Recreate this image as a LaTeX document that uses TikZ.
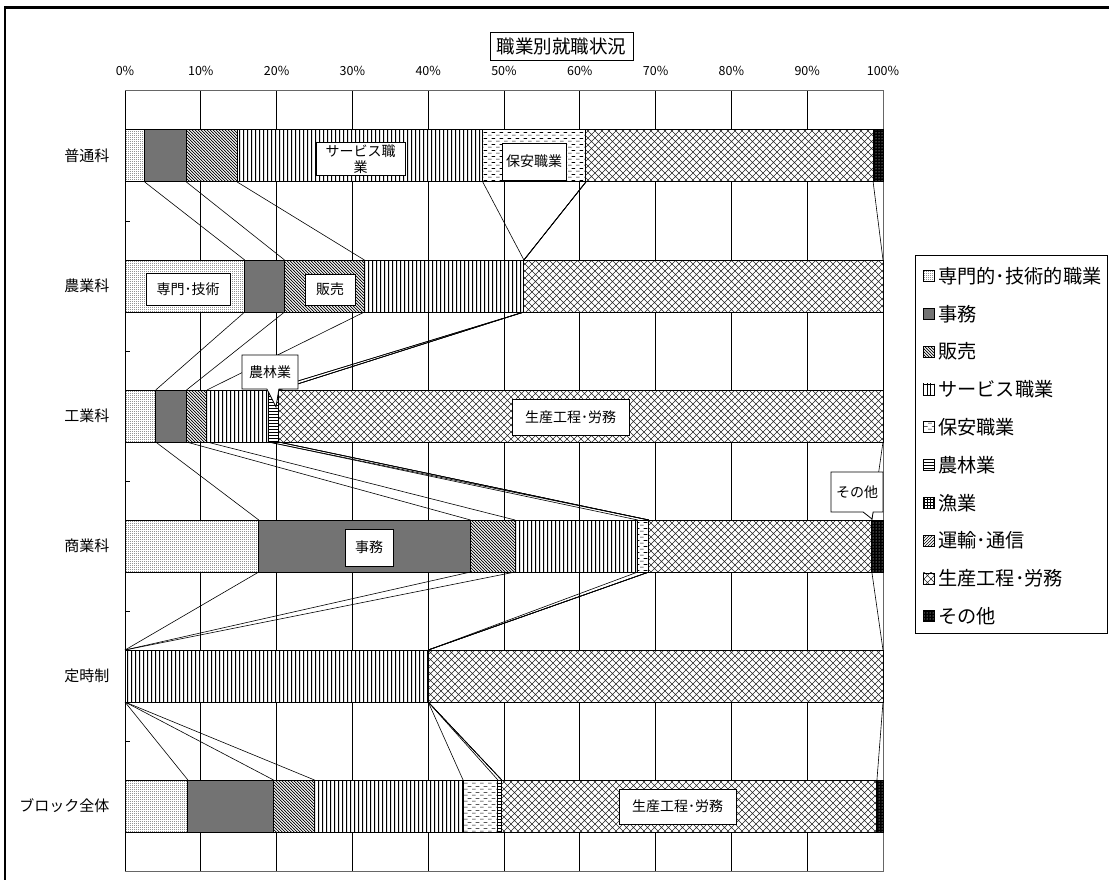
\documentclass[tikz,border=0pt]{standalone}
\usepackage{fontspec}
\setmainfont{Noto Sans CJK JP}
\usetikzlibrary{patterns}
\usetikzlibrary{shapes.callouts}

% fill patterns for the bar segments
\pgfdeclarepatternformonly{finedots}{\pgfpointorigin}{\pgfqpoint{2pt}{2pt}}{\pgfqpoint{2pt}{2pt}}{%
\pgfpathrectangle{\pgfpointorigin}{\pgfqpoint{0.9pt}{0.9pt}}\pgfusepath{fill}}
\pgfdeclarepatternformonly{hatchnw}{\pgfqpoint{-1pt}{-1pt}}{\pgfqpoint{4pt}{4pt}}{\pgfqpoint{3pt}{3pt}}{%
\pgfsetlinewidth{0.7pt}%
\pgfpathmoveto{\pgfqpoint{0pt}{3pt}}\pgfpathlineto{\pgfqpoint{3.1pt}{-0.1pt}}%
\pgfusepath{stroke}}
\pgfdeclarepatternformonly{vlines}{\pgfpointorigin}{\pgfqpoint{3.6pt}{100pt}}{\pgfqpoint{3.6pt}{100pt}}{%
\pgfsetlinewidth{1pt}%
\pgfpathmoveto{\pgfqpoint{1.8pt}{0pt}}\pgfpathlineto{\pgfqpoint{1.8pt}{100pt}}%
\pgfusepath{stroke}}
\pgfdeclarepatternformonly{dashrows}{\pgfpointorigin}{\pgfqpoint{8pt}{6pt}}{\pgfqpoint{8pt}{6pt}}{%
\pgfsetlinewidth{0.6pt}%
\pgfpathmoveto{\pgfqpoint{0pt}{1pt}}\pgfpathlineto{\pgfqpoint{4pt}{1pt}}%
\pgfpathmoveto{\pgfqpoint{4pt}{4pt}}\pgfpathlineto{\pgfqpoint{8pt}{4pt}}%
\pgfusepath{stroke}}
\pgfdeclarepatternformonly{bigcross}{\pgfqpoint{-0.5pt}{-0.5pt}}{\pgfqpoint{7.5pt}{7.5pt}}{\pgfqpoint{7pt}{7pt}}{%
\pgfsetlinewidth{0.6pt}%
\pgfpathmoveto{\pgfqpoint{0pt}{0pt}}\pgfpathlineto{\pgfqpoint{7pt}{7pt}}%
\pgfpathmoveto{\pgfqpoint{0pt}{7pt}}\pgfpathlineto{\pgfqpoint{7pt}{0pt}}%
\pgfusepath{stroke}}

\tikzset{
bar/.style={ % Sets the properties for each bar segment
draw, line width=1pt,
preaction={fill=white}},
seg1/.style={bar, pattern=finedots},
seg2/.style={bar, fill=black!55},
seg3/.style={bar, pattern=hatchnw},
seg4/.style={bar, pattern=vlines},
seg5/.style={bar, pattern=dashrows},
seg6/.style={bar, pattern=horizontal lines},
seg7/.style={bar, pattern=grid},
seg8/.style={bar, pattern=north east lines},
seg9/.style={bar, pattern=bigcross, pattern color=black!85},
seg10/.style={bar, preaction={fill=black}, pattern=dots, pattern color=white},
gridline/.style={line width=0.9pt},
serline/.style={line width=0.6pt}, % Lines joining the same series
pctlabel/.style={font=\fontsize{12.5}{14}\selectfont},
rowlabel/.style={anchor=east, font=\fontsize{15}{17}\selectfont},
dlabel/.style={ % Boxed labels on the bars
draw, fill=white, line width=0.8pt,
inner sep=2pt,
font=\fontsize{14}{16}\selectfont},
legkey/.style={minimum size=11pt, inner sep=0pt, line width=0.6pt},
leglabel/.style={anchor=west, inner sep=1pt, font=\fontsize{19.2}{21}\selectfont}}

\begin{document}
\begin{tikzpicture}[x=1pt, y=-1pt]
\useasboundingbox (0,0) rectangle (1109,880);
\draw[line width=2.5pt] (5,880) -- (5,7.5) -- (1109,7.5);
\node[draw, minimum width=143pt, minimum height=28pt, inner sep=0pt,
font=\fontsize{18.5}{20}\selectfont] (title) at (561.5,46) {職業別就職状況};

\begin{scope}[xshift=125pt, x=7.58pt]
\foreach \p in {10,20,...,90}
\draw[gridline] (\p,91) -- (\p,871);
\draw[black!60, line width=1pt] (0,91) rectangle (100,871);
\draw[line width=1pt] (0,91) -- (0,871);
\foreach \r in {1,...,5}
\draw[line width=1pt] (0,91+130*\r) -- (0.66,91+130*\r);
\foreach \p in {0,10,...,100}
\node[pctlabel] (pc\p) at (\p,71) {\p\%};
\foreach \name [count=\r] in {普通科,農業科,工業科,商業科,定時制,ブロック全体}
\node[rowlabel] (row\r) at (-1.6,26+130*\r) {\name};

% cumulative shares of the ten series, row by row
\foreach \r/\cum in {
1/{2.6,8.1,14.8,47.2,60.8,60.8,60.8,60.8,98.7,100},
2/{15.79,21.05,31.58,52.63,52.63,52.63,52.63,52.63,100,100},
3/{4.05,8.11,10.81,18.92,18.92,20.27,20.27,20.27,100,100},
4/{17.65,45.59,51.47,67.65,69.12,69.12,69.12,69.12,98.53,100},
5/{0,0,0,40,40,40,40,40,100,100},
6/{8.3,19.6,25.0,44.6,49.2,49.7,49.7,49.7,99.2,100}} {
\coordinate (t\r-0) at (0,130*\r);
\coordinate (b\r-0) at (0,130*\r+52);
\foreach \c [count=\k] in \cum {
\coordinate (t\r-\k) at (\c,130*\r);
\coordinate (b\r-\k) at (\c,130*\r+52);
}
\ifnum\r>1
\pgfmathtruncatemacro\q{\r-1}
\foreach \k in {1,...,9}
\draw[serline] (b\q-\k) -- (t\r-\k);
\fi
\foreach \c [count=\k, remember=\c as \p (initially 0)] in \cum {
\ifdim \c pt>\p pt
\pgfmathtruncatemacro\j{\k-1}
\draw[seg\k] (t\r-\j) rectangle (b\r-\k);
\fi
}
}
\end{scope}

\node[dlabel, minimum width=89pt, minimum height=32pt, align=center] (lbService) at (360.5,159) {サービス職\\業};
\node[dlabel, minimum width=64pt, minimum height=37pt] (lbHoan) at (534,161.5) {保安職業};
\node[dlabel, minimum width=84pt, minimum height=32pt] (lbSenmon) at (188,289) {専門･技術};
\node[dlabel, minimum width=50pt, minimum height=31pt] (lbHanbai) at (330,289.5) {販売};
\node[dlabel, rectangle callout, callout absolute pointer={(276,407)},
callout pointer width=12pt, minimum width=56pt, minimum height=34pt] (lbNourin) at (270,372) {農林業};
\node[dlabel, minimum width=117pt, minimum height=36pt] (lbSeisanA) at (570.5,417) {生産工程･労務};
\node[dlabel, minimum width=48pt, minimum height=37pt] (lbJimu) at (369,547.5) {事務};
\node[dlabel, rectangle callout, callout absolute pointer={(872,519)},
callout pointer width=10pt, minimum width=52pt, minimum height=40pt] (lbSonota) at (857,492) {その他};
\node[dlabel, minimum width=117pt, minimum height=35pt] (lbSeisanB) at (677.5,806.5) {生産工程･労務};

% legend
\node[draw, fill=white, line width=0.8pt, anchor=north west, minimum width=192pt,
minimum height=378pt] (legend) at (915,255) {};
\foreach \name [count=\k] in {専門的･技術的職業,事務,販売,サービス職業,保安職業,農林業,漁業,運輸･通信,生産工程･労務,その他} {
\node[seg\k, legkey] (key\k) at (928.5,238.2+37.8*\k) {};
\node[leglabel] (leg\k) at (937,238.2+37.8*\k) {\name};
}
\end{tikzpicture}
\end{document}
